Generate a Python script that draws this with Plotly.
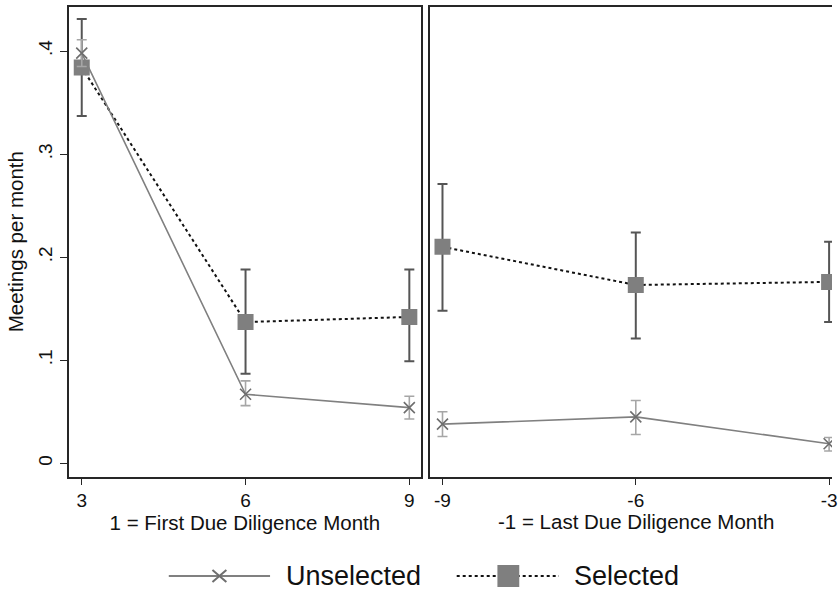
import plotly.graph_objects as go

# Months relative to the first / last due diligence month
months_first = [3, 6, 9]
months_last = [-9, -6, -3]
months_last_text = ["-9", "-6", "-3"]

# Selected firms: mean meetings per month with 95% CI
sel_first = [0.384, 0.137, 0.142]
sel_first_lo = [0.337, 0.087, 0.099]
sel_first_hi = [0.431, 0.188, 0.188]
sel_last = [0.210, 0.173, 0.176]
sel_last_lo = [0.148, 0.121, 0.137]
sel_last_hi = [0.271, 0.224, 0.215]

# Unselected firms
uns_first = [0.398, 0.067, 0.054]
uns_first_lo = [0.385, 0.056, 0.043]
uns_first_hi = [0.411, 0.080, 0.065]
uns_last = [0.038, 0.045, 0.019]
uns_last_lo = [0.026, 0.028, 0.012]
uns_last_hi = [0.050, 0.061, 0.025]

y_ticks = [0, 0.1, 0.2, 0.3, 0.4]
y_tick_text = ["0", ".1", ".2", ".3", ".4"]

W, H = 838, 590
FONT = "Liberation Sans, Arial, sans-serif"
SEL_MARK = "#7f7f7f"
SEL_ERR = "#555555"
UNS_LINE = "#808080"
UNS_ERR = "#a6a6a6"
FRAME = "#262626"
TITLE_SIZE = 20.5


def err(vals, lo, hi):
    return dict(
        plus=[h - v for v, h in zip(vals, hi)],
        minus=[v - l for v, l in zip(vals, lo)],
    )


fig = go.Figure()

for xs, ax, ay, s, slo, shi, u, ulo, uhi in [
    (months_first, "x", "y", sel_first, sel_first_lo, sel_first_hi,
     uns_first, uns_first_lo, uns_first_hi),
    (months_last, "x2", "y2", sel_last, sel_last_lo, sel_last_hi,
     uns_last, uns_last_lo, uns_last_hi),
]:
    e = err(s, slo, shi)
    fig.add_trace(go.Scatter(
        x=xs, y=s, xaxis=ax, yaxis=ay, mode="lines+markers",
        line=dict(color="#111111", width=2, dash="dot"),
        marker=dict(symbol="square", size=16, color=SEL_MARK),
        error_y=dict(type="data", symmetric=False, array=e["plus"],
                     arrayminus=e["minus"], color=SEL_ERR, thickness=2, width=5),
        showlegend=False,
    ))
    e = err(u, ulo, uhi)
    fig.add_trace(go.Scatter(
        x=xs, y=u, xaxis=ax, yaxis=ay, mode="lines+markers",
        line=dict(color=UNS_LINE, width=1.6),
        marker=dict(symbol="x-thin", size=11, color=UNS_LINE,
                    line=dict(color="#6e6e6e", width=1.6)),
        error_y=dict(type="data", symmetric=False, array=e["plus"],
                     arrayminus=e["minus"], color=UNS_ERR, thickness=1.6, width=5),
        showlegend=False,
    ))


def px_x(p):
    return p / W


def px_y(p):
    return 1 - p / H


ydom = [px_y(476.7), px_y(6.7)]
yrange = [-0.013, 0.443]
tickfont = dict(family=FONT, size=19, color="#111111")

fig.update_layout(
    width=W, height=H,
    margin=dict(l=0, r=0, t=0, b=0),
    paper_bgcolor="white", plot_bgcolor="white",
    font=dict(family=FONT, color="#111111"),
    xaxis=dict(
        domain=[px_x(69.3), px_x(424)], range=[2.763, 9.213],
        tickvals=months_first, ticks="outside", ticklen=6, tickwidth=1.3,
        tickcolor=FRAME, tickfont=tickfont, showgrid=False, zeroline=False,
        showline=True, linecolor=FRAME, linewidth=1.6, mirror=True,
        title=dict(text="1 = First Due Diligence Month",
                   font=dict(family=FONT, size=TITLE_SIZE, color="#111111"),
                   standoff=4),
    ),
    yaxis=dict(
        domain=ydom, range=yrange, tickvals=y_ticks, ticktext=y_tick_text,
        tickangle=-90, ticks="outside", ticklen=7, tickwidth=1.3,
        tickcolor=FRAME, tickfont=tickfont, showgrid=False, zeroline=False,
        showline=True, linecolor=FRAME, linewidth=1.6, mirror=True,
        title=dict(text="Meetings per month",
                   font=dict(family=FONT, size=TITLE_SIZE, color="#111111"),
                   standoff=6),
    ),
    xaxis2=dict(
        domain=[px_x(432.7), 1.0], range=[-9.2, -2.955],
        tickvals=months_last, ticktext=months_last_text,
        ticks="outside", ticklen=6, tickwidth=1.3, ticklabeloverflow="allow",
        tickcolor=FRAME, tickfont=tickfont, showgrid=False, zeroline=False,
        showline=True, linecolor=FRAME, linewidth=1.6, mirror=True,
        anchor="y2",
    ),
    yaxis2=dict(
        domain=ydom, range=yrange, tickvals=y_ticks, showticklabels=False,
        ticks="", showgrid=False, zeroline=False,
        showline=True, linecolor=FRAME, linewidth=1.6, mirror=False,
        anchor="x2",
    ),
)

# Title of the second panel, centred on the panel's full month span
fig.add_annotation(
    text="-1 = Last Due Diligence Month", xref="x2", yref="paper",
    x=-6, y=px_y(521), showarrow=False, xanchor="center", yanchor="middle",
    borderpad=0, font=dict(family=FONT, size=TITLE_SIZE, color="#111111"),
)

# Legend row
ly = px_y(576)
shapes = [
    dict(type="line", xref="paper", yref="paper", x0=px_x(170), x1=px_x(272),
         y0=ly, y1=ly, line=dict(color=UNS_LINE, width=2)),
    dict(type="line", xref="paper", yref="paper", x0=px_x(214), x1=px_x(228),
         y0=px_y(570), y1=px_y(582), line=dict(color="#6e6e6e", width=2)),
    dict(type="line", xref="paper", yref="paper", x0=px_x(214), x1=px_x(228),
         y0=px_y(582), y1=px_y(570), line=dict(color="#6e6e6e", width=2)),
    dict(type="line", xref="paper", yref="paper", x0=px_x(460), x1=px_x(563),
         y0=ly, y1=ly, line=dict(color="#111111", width=2, dash="dot")),
    dict(type="rect", xref="paper", yref="paper", x0=px_x(501), x1=px_x(523),
         y0=px_y(587), y1=px_y(565), fillcolor=SEL_MARK, line=dict(width=0)),
]
for s in shapes:
    fig.add_shape(**s)
fig.add_annotation(text="Unselected", xref="paper", yref="paper",
                   x=px_x(287), y=ly, xanchor="left", yanchor="middle",
                   borderpad=0, showarrow=False,
                   font=dict(family=FONT, size=27, color="#111111"))
fig.add_annotation(text="Selected", xref="paper", yref="paper",
                   x=px_x(577), y=ly, xanchor="left", yanchor="middle",
                   borderpad=0, showarrow=False,
                   font=dict(family=FONT, size=27, color="#111111"))

fig.write_html("out.html")
